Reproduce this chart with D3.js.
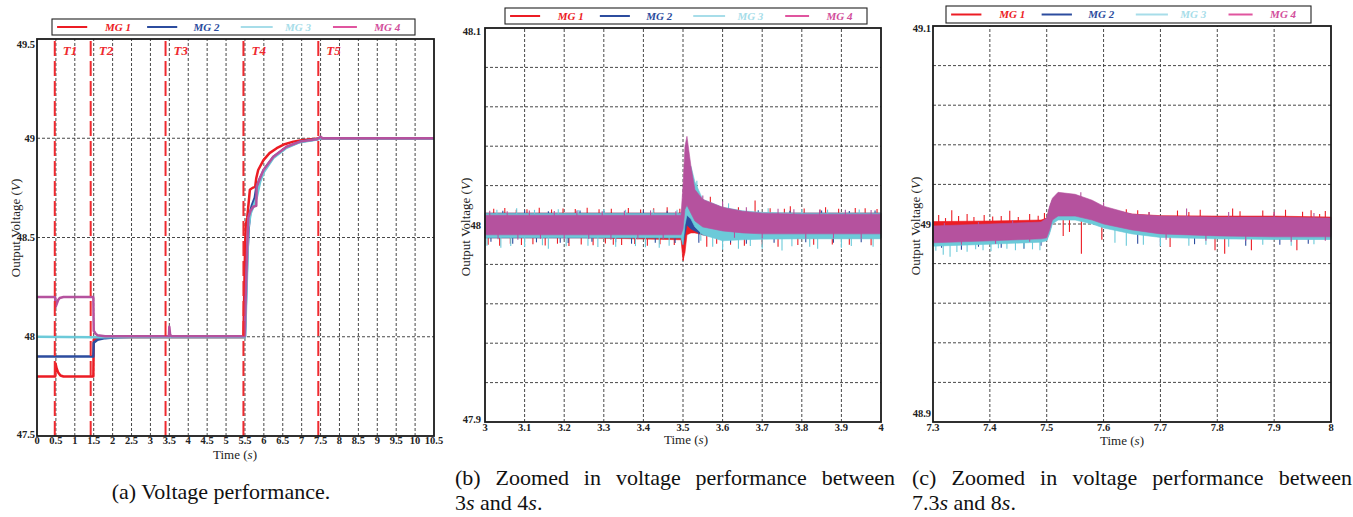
<!DOCTYPE html>
<html>
<head>
<meta charset="utf-8">
<script src="https://cdn.jsdelivr.net/npm/d3@7"></script>
</head>
<body style="margin:0;background:#fff">
<svg id="chart" width="1353" height="517" style="display:block"></svg>
<script>
// ---------- series identity ----------
const seriesNames = ["MG 1", "MG 2", "MG 3", "MG 4"];
const lineColors = ["#ec1c24", "#2c4c9e", "#6ccad9", "#b5529e"];
const legendLineColors = ["#ec1c24", "#2c4c9e", "#a7dde9", "#e0559f"];
const legendTextColors = ["#ec1c24", "#2c4c9e", "#a7dde9", "#d24f9c"];

// ---------- panel (a): whole run, 0 - 10.5 s ----------
const tMG1a = [0, 0.48, 0.49, 0.52, 0.56, 0.62, 0.7, 1.49, 1.5, 1.6, 2.0, 3.5, 5.46, 5.48, 5.5, 5.52, 5.56, 5.6, 5.63, 5.7, 5.77, 5.8, 5.85, 5.99, 6.15, 6.34, 6.55, 6.78, 7.0, 7.31, 7.5, 10.5];
const vMG1a = [47.8, 47.8, 47.865, 47.84, 47.82, 47.805, 47.8, 47.8, 47.985, 47.995, 47.998, 47.998, 47.998, 48.2, 48.42, 48.56, 48.6, 48.68, 48.74, 48.75, 48.755, 48.8, 48.84, 48.89, 48.925, 48.95, 48.97, 48.983, 48.99, 48.996, 49.0, 49.0];

const tMG2a = [0, 1.49, 1.5, 1.6, 1.8, 2.1, 2.5, 5.5, 5.52, 5.56, 5.6, 5.64, 5.68, 5.72, 5.76, 5.8, 5.9, 6.0, 6.25, 6.6, 6.95, 7.4, 7.5, 10.5];
const vMG2a = [47.9, 47.9, 47.97, 47.985, 47.993, 47.998, 48.0, 48.0, 48.15, 48.4, 48.55, 48.63, 48.66, 48.68, 48.7, 48.75, 48.8, 48.84, 48.905, 48.955, 48.982, 48.995, 49.0, 49.0];

const tMG3a = [0, 1.5, 5.5, 5.52, 5.56, 5.59, 5.65, 5.72, 5.81, 5.9, 6.0, 6.25, 6.6, 6.95, 7.4, 7.5, 10.5];
const vMG3a = [48.0, 47.998, 47.998, 48.1, 48.35, 48.55, 48.62, 48.655, 48.7, 48.78, 48.83, 48.9, 48.952, 48.98, 48.994, 49.0, 49.0];

const tMG4a = [0, 0.48, 0.49, 0.53, 0.56, 0.6, 0.7, 1.49, 1.5, 1.55, 1.6, 1.8, 2.0, 3.49, 3.5, 3.52, 3.55, 5.49, 5.5, 5.52, 5.56, 5.59, 5.65, 5.72, 5.8, 5.81, 5.9, 5.99, 6.25, 6.6, 6.955, 7.4, 7.5, 7.55, 10.5];
const vMG4a = [48.2, 48.2, 48.15, 48.17, 48.185, 48.195, 48.2, 48.2, 48.03, 48.015, 48.008, 48.003, 48.002, 48.002, 48.05, 48.012, 48.003, 48.002, 48.05, 48.2, 48.45, 48.6, 48.635, 48.655, 48.66, 48.756, 48.8, 48.84, 48.907, 48.957, 48.983, 48.995, 49.008, 49.0, 49.0];

const eventTimes = [0.47, 1.42, 3.40, 5.46, 7.44];
const eventLabels = ["T1", "T2", "T3", "T4", "T5"];
const xTicksA = [0, 0.5, 1, 1.5, 2, 2.5, 3, 3.5, 4, 4.5, 5, 5.5, 6, 6.5, 7, 7.5, 8, 8.5, 9, 9.5, 10, 10.5];
const yTicksA = [47.5, 48, 48.5, 49, 49.5];

// ---------- panel (b): 3 - 4 s, noise envelopes ----------
const tB = [3.0, 3.25, 3.495, 3.5, 3.505, 3.51, 3.52, 3.53, 3.55, 3.6, 3.65, 3.7, 3.8, 4.0];
const hiMG1b = [48.006, 48.006, 48.006, 48.005, 48.010, 48.012, 48.010, 48.009, 48.008, 48.007, 48.0065, 48.006, 48.006, 48.006];
const loMG1b = [47.9935, 47.9935, 47.9925, 47.982, 47.986, 47.995, 47.996, 47.996, 47.995, 47.9935, 47.9935, 47.9935, 47.9935, 47.9935];
const hiMG2b = [48.006, 48.006, 48.006, 48.008, 48.015, 48.019, 48.015, 48.011, 48.008, 48.007, 48.0065, 48.006, 48.006, 48.006];
const loMG2b = [47.9935, 47.9935, 47.9935, 47.990, 47.995, 48.0, 47.998, 47.997, 47.995, 47.9935, 47.9935, 47.9935, 47.9935, 47.9935];
const hiMG3b = [48.0058, 48.0058, 48.0058, 48.01, 48.02, 48.028, 48.030, 48.022, 48.013, 48.009, 48.0072, 48.0064, 48.006, 48.006];
const loMG3b = [47.9935, 47.9935, 47.9935, 47.990, 48.0, 48.005, 48.003, 47.999, 47.995, 47.992, 47.9925, 47.9928, 47.993, 47.993];
const hiMG4b = [48.005, 48.005, 48.005, 48.02, 48.04, 48.045, 48.030, 48.018, 48.013, 48.009, 48.007, 48.006, 48.0055, 48.0055];
const loMG4b = [47.995, 47.995, 47.995, 47.998, 48.008, 48.010, 48.006, 48.002, 47.999, 47.997, 47.996, 47.9955, 47.9955, 47.9955];
// excursions beyond the envelopes [time, value]
const spikesMG1b = [[3.008, 47.990], [3.022, 48.0082], [3.037, 47.9895], [3.05, 48.0086], [3.064, 47.9905], [3.079, 48.0078], [3.092, 47.9898], [3.106, 48.008], [3.121, 47.9902], [3.137, 48.0088], [3.152, 47.9896], [3.168, 48.0079], [3.183, 47.9905], [3.197, 48.0084], [3.212, 47.9893], [3.228, 48.0081], [3.243, 47.9901], [3.258, 48.0087], [3.273, 47.9897], [3.288, 48.008], [3.304, 47.9906], [3.319, 48.0083], [3.324, 47.990], [3.345, 47.9899], [3.362, 48.0086], [3.378, 47.9903], [3.393, 48.0079], [3.41, 47.9895], [3.426, 48.0085], [3.442, 47.9902], [3.46, 48.009], [3.478, 47.9898], [3.492, 48.0082], [3.501, 47.982], [3.56, 47.989], [3.569, 48.0144], [3.585, 47.9905], [3.6, 48.0095], [3.62, 47.990], [3.64, 48.009], [3.655, 47.9895], [3.682, 48.0125], [3.7, 47.9902], [3.72, 48.0085], [3.74, 47.989], [3.756, 48.0082], [3.771, 48.0095], [3.79, 47.9898], [3.806, 48.0084], [3.83, 47.990], [3.846, 48.0079], [3.86, 48.009], [3.877, 47.9901], [3.893, 48.0083], [3.92, 47.990], [3.935, 48.0086], [3.96, 48.0085], [3.975, 47.9897], [3.99, 48.0081]];
const spikesMG2b = [[3.015, 47.9915], [3.045, 48.0072], [3.07, 47.9905], [3.1, 48.0075], [3.13, 47.9912], [3.16, 48.007], [3.19, 47.991], [3.21, 47.9908], [3.24, 48.0073], [3.27, 47.9915], [3.3, 48.0071], [3.33, 47.9912], [3.37, 47.9905], [3.4, 48.0074], [3.43, 47.991], [3.46, 48.0072], [3.48, 47.9908], [3.54, 47.991], [3.58, 48.009], [3.62, 47.991], [3.66, 47.9905], [3.69, 48.0075], [3.73, 47.991], [3.77, 48.0072], [3.81, 47.9912], [3.85, 48.0073], [3.88, 47.991], [3.92, 48.0071], [3.95, 47.9912], [3.985, 48.0074]];
const spikesMG3b = [[3.005, 47.9895], [3.03, 48.0078], [3.04, 47.9885], [3.065, 47.9893], [3.08, 48.0085], [3.1, 47.989], [3.125, 48.0077], [3.145, 47.9897], [3.16, 47.988], [3.185, 48.008], [3.205, 47.9892], [3.235, 48.0076], [3.26, 47.9895], [3.285, 47.9888], [3.3, 48.008], [3.33, 47.989], [3.355, 48.0078], [3.38, 47.9893], [3.405, 47.9887], [3.425, 48.0079], [3.44, 47.9885], [3.465, 47.9895], [3.485, 48.0077], [3.515, 48.031], [3.535, 48.0225], [3.545, 47.992], [3.575, 47.989], [3.6, 47.9875], [3.615, 48.011], [3.64, 47.988], [3.67, 47.9893], [3.7, 47.988], [3.715, 48.0085], [3.75, 47.987], [3.775, 47.9892], [3.8, 48.008], [3.82, 47.989], [3.84, 47.988], [3.865, 48.0078], [3.9, 47.9885], [3.925, 47.9893], [3.945, 48.0079], [3.98, 47.989]];
const spikesMG4b = [[3.012, 48.0072], [3.033, 47.9928], [3.056, 48.007], [3.083, 47.9925], [3.112, 48.0074], [3.14, 47.993], [3.175, 48.0071], [3.2, 47.9926], [3.232, 48.0073], [3.262, 47.9929], [3.296, 48.007], [3.318, 47.9925], [3.352, 48.0072], [3.386, 47.9928], [3.418, 48.0074], [3.45, 47.9926], [3.482, 48.007], [3.55, 48.015], [3.6, 48.012], [3.63, 47.9935], [3.66, 48.009], [3.7, 47.9932], [3.74, 48.0082], [3.78, 48.008], [3.81, 47.993], [3.845, 48.0078], [3.88, 47.9932], [3.91, 48.0077], [3.95, 47.993], [3.975, 48.0076]];
const xTicksB = [3, 3.1, 3.2, 3.3, 3.4, 3.5, 3.6, 3.7, 3.8, 3.9, 4];
const yTicksB = [47.9, 48, 48.1];
const yGridB = [47.92, 47.94, 47.96, 47.98, 48.0, 48.02, 48.04, 48.06, 48.08];

// ---------- panel (c): 7.3 - 8 s, noise envelopes ----------
const tC = [7.3, 7.4, 7.49, 7.5, 7.505, 7.51, 7.52, 7.55, 7.58, 7.6, 7.65, 7.7, 7.8, 7.9, 8.0];
const hiMG1c = [49.0012, 49.0015, 49.002, 49.003, 49.008, 49.012, 49.015, 49.014, 49.011, 49.008, 49.005, 49.0042, 49.004, 49.004, 49.0035];
const loMG1c = [48.992, 48.993, 48.994, 48.9945, 48.998, 49.003, 49.005, 49.005, 49.003, 49.001, 48.998, 48.996, 48.995, 48.9945, 48.9945];
const hiMG2c = [48.998, 48.999, 49.0, 49.002, 49.008, 49.012, 49.015, 49.014, 49.011, 49.008, 49.004, 49.003, 49.0025, 49.0025, 49.002];
const loMG2c = [48.9895, 48.9905, 48.9915, 48.992, 48.996, 49.001, 49.003, 49.003, 49.001, 48.999, 48.996, 48.994, 48.993, 48.9925, 48.9925];
const hiMG3c = [48.998, 48.999, 49.0, 49.002, 49.008, 49.012, 49.015, 49.014, 49.011, 49.008, 49.004, 49.003, 49.0025, 49.0025, 49.002];
const loMG3c = [48.9888, 48.9898, 48.9908, 48.9915, 48.995, 49.0, 49.002, 49.002, 49.0, 48.998, 48.995, 48.9932, 48.9925, 48.9922, 48.9922];
const hiMG4c = [48.999, 49.0, 49.001, 49.003, 49.009, 49.013, 49.016, 49.015, 49.012, 49.009, 49.005, 49.004, 49.0035, 49.0035, 49.003];
const loMG4c = [48.9905, 48.9915, 48.9925, 48.993, 48.997, 49.002, 49.004, 49.004, 49.002, 49.0, 48.997, 48.995, 48.994, 48.9935, 48.9935];
const spikesMG1c = [[7.31, 49.0045], [7.322, 49.003], [7.333, 49.007], [7.345, 49.004], [7.36, 49.005], [7.372, 49.0035], [7.39, 49.0045], [7.405, 49.0038], [7.42, 49.004], [7.435, 49.0067], [7.45, 49.0035], [7.47, 49.005], [7.485, 49.0042], [7.496, 49.0055], [7.529, 48.994], [7.54, 48.996], [7.561, 48.985], [7.597, 48.992], [7.62, 49.0065], [7.64, 49.0075], [7.66, 49.007], [7.68, 49.006], [7.717, 48.9884], [7.73, 49.0068], [7.75, 49.006], [7.77, 49.0072], [7.796, 48.9868], [7.813, 48.985], [7.827, 49.0078], [7.84, 49.0065], [7.86, 48.9868], [7.88, 49.0068], [7.9, 49.006], [7.92, 49.0072], [7.94, 48.9868], [7.95, 49.0062], [7.965, 49.007], [7.98, 49.005], [7.99, 49.0066]];
const spikesMG2c = [[7.315, 48.988], [7.35, 48.987], [7.38, 48.9885], [7.42, 48.988], [7.46, 48.9875], [7.49, 48.989], [7.66, 48.990], [7.7, 48.989], [7.76, 48.9898], [7.85, 48.989], [7.91, 48.9895], [7.96, 48.99]];
const spikesMG3c = [[7.305, 48.9865], [7.318, 48.9845], [7.33, 48.9834], [7.342, 48.9858], [7.36, 48.986], [7.375, 48.9872], [7.388, 48.9868], [7.402, 48.9862], [7.415, 48.9878], [7.43, 48.9875], [7.445, 48.9868], [7.46, 48.988], [7.475, 48.9872], [7.488, 48.9868], [7.62, 48.9905], [7.64, 48.989], [7.67, 48.9895], [7.7, 48.9888], [7.75, 48.989], [7.78, 48.9895], [7.82, 48.9885], [7.88, 48.9895], [7.93, 48.989], [7.97, 48.9898]];
const spikesMG4c = [[7.32, 49.0005], [7.35, 48.9895], [7.38, 49.001], [7.41, 48.990], [7.44, 49.002], [7.47, 48.991], [7.56, 49.016], [7.6, 49.011], [7.63, 49.006], [7.68, 49.006], [7.71, 48.992], [7.746, 49.0078], [7.78, 48.9915], [7.82, 49.006], [7.85, 48.9915], [7.9, 49.006], [7.93, 48.991], [7.97, 49.0055], [7.99, 48.9915]];
const xTicksC = [7.3, 7.4, 7.5, 7.6, 7.7, 7.8, 7.9, 8];
const yTicksC = [48.9, 49, 49.1];
const yGridC = [48.92, 48.94, 48.96, 48.98, 49.0, 49.02, 49.04, 49.06, 49.08];

// ---------- drawing ----------
const svg = d3.select("#chart");

function frame(g, x, y, xGrid, yGrid) {
  const [x0, x1] = x.range(), [y0, y1] = y.range();
  g.append("g").selectAll("line").data(xGrid).join("line")
    .attr("x1", d => x(d)).attr("x2", d => x(d)).attr("y1", y0).attr("y2", y1)
    .attr("stroke", "#333").attr("stroke-width", 0.9).attr("stroke-dasharray", "3,2");
  g.append("g").selectAll("line").data(yGrid).join("line")
    .attr("x1", x0).attr("x2", x1).attr("y1", d => y(d)).attr("y2", d => y(d))
    .attr("stroke", "#333").attr("stroke-width", 0.9).attr("stroke-dasharray", "3,2");
}

function border(g, x, y) {
  const [x0, x1] = x.range(), [y0, y1] = y.range();
  g.append("rect").attr("x", x0).attr("y", y1).attr("width", x1 - x0).attr("height", y0 - y1)
    .attr("fill", "none").attr("stroke", "#1a1a1a").attr("stroke-width", 1.8);
}

// yShift: [offset for lowest label, offset for highest label]
function tickLabels(g, x, y, xTicks, yTicks, xLabelY, yLabelX, yShift) {
  const fmt = d => String(d);
  const lo = yTicks[0], hi = yTicks[yTicks.length - 1];
  g.append("g").selectAll("text").data(xTicks).join("text")
    .attr("x", d => x(d)).attr("y", xLabelY).attr("text-anchor", "middle")
    .attr("font-size", 10.5).attr("font-weight", "bold").attr("fill", "#222").text(fmt);
  g.append("g").selectAll("text").data(yTicks).join("text")
    .attr("x", yLabelX)
    .attr("y", d => y(d) + 3.5 + (d === lo ? yShift[0] : d === hi ? yShift[1] : 0))
    .attr("text-anchor", "end")
    .attr("font-size", 10.5).attr("font-weight", "bold").attr("fill", "#222").text(fmt);
}

function axisTitles(g, xc, xy, yx, yc) {
  const t = g.append("text").attr("x", xc).attr("y", xy).attr("text-anchor", "middle")
    .attr("font-size", 13).attr("fill", "#222");
  t.append("tspan").text("Time (");
  t.append("tspan").attr("font-style", "italic").text("s");
  t.append("tspan").text(")");
  const v = g.append("text").attr("transform", `translate(${yx},${yc}) rotate(-90)`)
    .attr("text-anchor", "middle").attr("dy", "0.35em").attr("font-size", 13).attr("fill", "#222");
  v.append("tspan").text("Output Voltage (");
  v.append("tspan").attr("font-style", "italic").text("V");
  v.append("tspan").text(")");
}

function legend(g, bx0, by0, bx1, by1) {
  const w = bx1 - bx0, cy = (by0 + by1) / 2;
  const lineStart = [0.014, 0.262, 0.52, 0.774];
  const lineLen = [0.083, 0.083, 0.088, 0.066];
  const textStart = [0.146, 0.39, 0.642, 0.888];
  g.append("rect").attr("x", bx0).attr("y", by0).attr("width", w).attr("height", by1 - by0)
    .attr("fill", "#fff").attr("stroke", "#222").attr("stroke-width", 1.1);
  seriesNames.forEach((name, i) => {
    g.append("line").attr("x1", bx0 + lineStart[i] * w).attr("x2", bx0 + (lineStart[i] + lineLen[i]) * w)
      .attr("y1", cy).attr("y2", cy).attr("stroke", legendLineColors[i]).attr("stroke-width", 2);
    g.append("text").attr("x", bx0 + textStart[i] * w).attr("y", cy + 3.5)
      .attr("font-size", 11).attr("font-weight", "bold").attr("font-style", "italic")
      .attr("fill", legendTextColors[i]).text(name);
  });
}

function bands(g, x, y, ts, his, los, spikes) {
  const area = d3.area().x((d, i) => x(ts[i])).y0(d => y(d[0])).y1(d => y(d[1]));
  his.forEach((hi, s) => {
    const pts = hi.map((h, i) => [los[s][i], h]);
    const mid = i => (hi[i] + los[s][i]) / 2;
    g.append("g").selectAll("line").data(spikes[s]).join("line")
      .attr("x1", d => x(d[0])).attr("x2", d => x(d[0]))
      .attr("y1", d => y(mid(Math.max(0, d3.bisectRight(ts, d[0]) - 1))))
      .attr("y2", d => y(d[1]))
      .attr("stroke", lineColors[s]).attr("stroke-width", 1.1);
    g.append("path").datum(pts).attr("d", area)
      .attr("fill", lineColors[s]).attr("stroke", lineColors[s]).attr("stroke-width", 0.6)
      .attr("stroke-linejoin", "round");
  });
}

// ---- panel (a) ----
{
  const x = d3.scaleLinear().domain([0, 10.5]).range([37, 434]);
  const y = d3.scaleLinear().domain([47.5, 49.5]).range([436, 39]);
  const g = svg.append("g");
  frame(g, x, y, xTicksA.slice(1, -1), [48, 48.5, 49]);
  const line = d3.line().x(d => x(d[0])).y(d => y(d[1]));
  const series = [[tMG1a, vMG1a], [tMG2a, vMG2a], [tMG3a, vMG3a], [tMG4a, vMG4a]];
  series.forEach(([ts, vs], i) => {
    g.append("path").datum(ts.map((t, k) => [t, vs[k]])).attr("d", line)
      .attr("fill", "none").attr("stroke", lineColors[i]).attr("stroke-width", 2.5)
      .attr("stroke-linejoin", "round");
  });
  g.append("g").selectAll("line").data(eventTimes).join("line")
    .attr("x1", d => x(d)).attr("x2", d => x(d)).attr("y1", y(49.49)).attr("y2", y(47.5))
    .attr("stroke", "#ee2a2f").attr("stroke-width", 2).attr("stroke-dasharray", "15,5");
  g.append("g").selectAll("text").data(eventTimes).join("text")
    .attr("x", d => x(d) + 8).attr("y", 55)
    .attr("font-size", 13).attr("font-weight", "bold").attr("font-style", "italic")
    .attr("fill", "#ee2a2f").text((d, i) => eventLabels[i]);
  border(g, x, y);
  tickLabels(g, x, y, xTicksA, yTicksA, 444, 35, [-2, 5]);
  axisTitles(g, 235, 459, 15, 228);
  legend(g, 52, 19, 415, 35);
}

// ---- panel (b) ----
{
  const x = d3.scaleLinear().domain([3, 4]).range([485, 881]);
  const y = d3.scaleLinear().domain([47.9, 48.1]).range([422, 28]);
  const g = svg.append("g");
  frame(g, x, y, xTicksB.slice(1, -1), yGridB);
  bands(g, x, y, tB, [hiMG1b, hiMG2b, hiMG3b, hiMG4b], [loMG1b, loMG2b, loMG3b, loMG4b],
        [spikesMG1b, spikesMG2b, spikesMG3b, spikesMG4b]);
  border(g, x, y);
  tickLabels(g, x, y, xTicksB, yTicksB, 431, 481, [-3, 3]);
  axisTitles(g, 686, 444, 465, 227);
  legend(g, 505, 8, 867, 24);
}

// ---- panel (c) ----
{
  const x = d3.scaleLinear().domain([7.3, 8]).range([933, 1331]);
  const y = d3.scaleLinear().domain([48.9, 49.1]).range([422, 26]);
  const g = svg.append("g");
  frame(g, x, y, xTicksC.slice(1, -1), yGridC);
  bands(g, x, y, tC, [hiMG1c, hiMG2c, hiMG3c, hiMG4c], [loMG1c, loMG2c, loMG3c, loMG4c],
        [spikesMG1c, spikesMG2c, spikesMG3c, spikesMG4c]);
  border(g, x, y);
  tickLabels(g, x, y, xTicksC, yTicksC, 431, 931, [-9, 2]);
  axisTitles(g, 1122, 445, 915, 226);
  legend(g, 946, 6, 1311, 23);
}

// ---------- captions ----------
function caption(x, yb, parts, anchor, justifyTo) {
  const t = svg.append("text").attr("x", x).attr("y", yb).attr("font-size", 22)
    .style("font-family", '"Liberation Serif", serif')
    .attr("fill", "#111").attr("text-anchor", anchor || "start");
  parts.forEach(([s, it]) => {
    const sp = t.append("tspan").text(s);
    if (it) sp.attr("font-style", "italic");
  });
  if (justifyTo) {
    const len = t.node().getComputedTextLength();
    const gaps = parts.map(p => p[0]).join("").split(" ").length - 1;
    t.attr("word-spacing", (justifyTo - len) / gaps);
  }
}

// every label in the figure is set in the serif face
svg.selectAll("text").style("font-family", '"Liberation Serif", serif');

caption(221, 499, [["(a) Voltage performance.", false]], "middle");
caption(455, 485, [["(b) Zoomed in voltage performance between", false]], "start", 440);
caption(455, 510, [["3", false], ["s", true], [" and 4", false], ["s", true], [".", false]]);
caption(912, 485, [["(c) Zoomed in voltage performance between", false]], "start", 440);
caption(912, 510, [["7.3", false], ["s", true], [" and 8", false], ["s", true], [".", false]]);
</script>
</body>
</html>
